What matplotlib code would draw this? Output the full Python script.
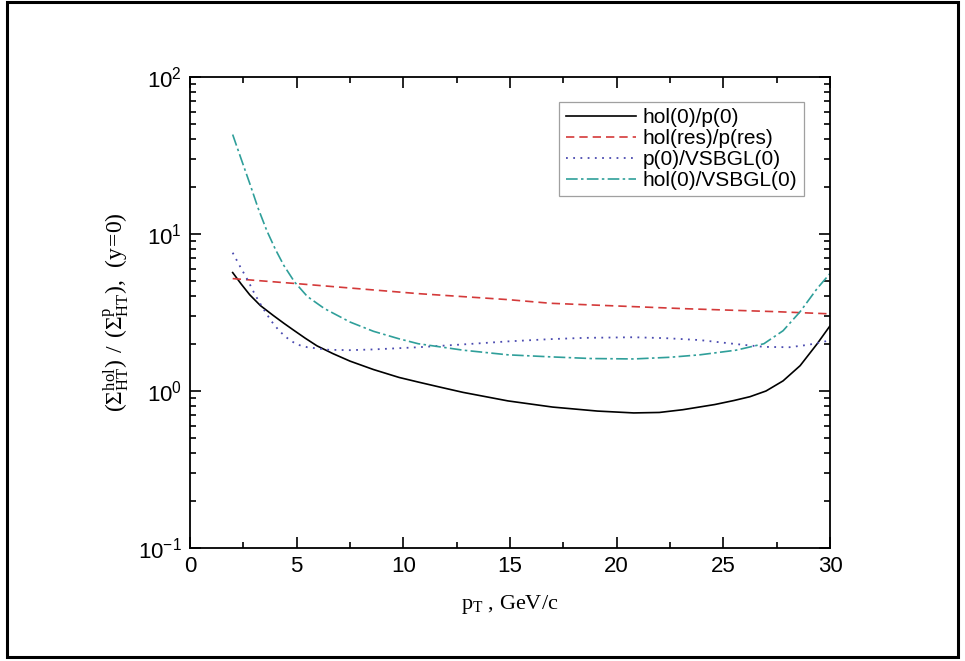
import math
import matplotlib
matplotlib.use("Agg")
import matplotlib.pyplot as plt
from matplotlib.ticker import FixedLocator, LogLocator, FuncFormatter, NullFormatter
from matplotlib.patches import Rectangle

plt.rcParams['font.family'] = ['Liberation Sans', 'DejaVu Sans']

# hol(0)/p(0)
x_hol_p = [2, 2.4, 2.8, 3.3, 3.9, 4.4, 4.84, 5.4, 5.95, 6.7, 7.5, 8.6, 9.8, 10.7,
           11.7, 12.8, 14.9, 17, 19.1, 20.8, 22, 23.1, 24.6, 25.5, 26.25, 27, 27.8,
           28.6, 29.4, 30]
y_hol_p = [5.68, 4.8, 4.1, 3.5, 3.03, 2.7, 2.45, 2.17, 1.94, 1.73, 1.55, 1.37, 1.22,
           1.14, 1.06, 0.98, 0.865, 0.79, 0.745, 0.725, 0.73, 0.76, 0.82, 0.87, 0.92,
           1.0, 1.16, 1.45, 2.0, 2.6]

# hol(res)/p(res)
x_res = [2, 5, 10.7, 14.9, 16.9, 19.1, 23.3, 27.5, 30]
y_res = [5.2, 4.83, 4.17, 3.82, 3.62, 3.52, 3.34, 3.2, 3.1]

# p(0)/VSBGL(0)
x_p_vs = [2, 2.35, 2.7, 3.05, 3.4, 3.8, 4.2, 4.6, 5, 5.5, 6.5, 7.5, 8.6, 10.7, 12.8,
          14.9, 16.9, 18.5, 20.8, 22.3, 23.9, 25.6, 26.9, 28.1, 29, 30]
y_p_vs = [7.6, 6.2, 5.1, 4.1, 3.4, 2.8, 2.4, 2.15, 1.98, 1.9, 1.83, 1.82, 1.84, 1.9,
          1.98, 2.07, 2.14, 2.18, 2.2, 2.17, 2.11, 1.99, 1.91, 1.9, 1.97, 2.1]

# hol(0)/VSBGL(0)
x_hol_vs = [2, 2.4, 2.8, 3.2, 3.6, 4.0, 4.4, 4.9, 5.5, 6.3, 7.5, 8.6, 9.8, 10.7,
            12.8, 14.9, 16.9, 18.8, 20.8, 22.5, 23.9, 25.6, 26.9, 27.8, 28.6, 29.4, 30]
y_hol_vs = [43, 30, 21, 14.5, 10.5, 8.0, 6.3, 4.95, 4.0, 3.35, 2.75, 2.4, 2.15, 2.0,
            1.82, 1.7, 1.65, 1.61, 1.6, 1.64, 1.7, 1.82, 2.0, 2.42, 3.2, 4.5, 5.6]

labels = ['hol(0)/p(0)', 'hol(res)/p(res)', 'p(0)/VSBGL(0)', 'hol(0)/VSBGL(0)']

fig = plt.figure(figsize=(9.65, 6.61), dpi=100)
ax = fig.add_axes([190/965, 1 - 548/661, 640/965, 471/661])

ax.plot(x_hol_p, y_hol_p, color='black', lw=1.2, ls='-', label=labels[0])
ax.plot(x_res, y_res, color='#d43a3a', lw=1.2, ls=(0, (5, 3)), label=labels[1])
ax.plot(x_p_vs, y_p_vs, color='#4a4ab0', lw=1.3, ls=(0, (1, 3)), label=labels[2])
ax.plot(x_hol_vs, y_hol_vs, color='#2f9f9a', lw=1.2, ls=(0, (7, 2, 1.5, 2)), label=labels[3])

ax.set_yscale('log')
ax.set_xlim(0, 30)
ax.set_ylim(0.1, 100)

ax.xaxis.set_major_locator(FixedLocator([0, 5, 10, 15, 20, 25, 30]))
ax.xaxis.set_minor_locator(FixedLocator([2.5, 7.5, 12.5, 17.5, 22.5, 27.5]))
ax.yaxis.set_major_locator(LogLocator(base=10, numticks=10))
ax.yaxis.set_minor_locator(LogLocator(base=10, subs=range(2, 10), numticks=20))
ax.yaxis.set_minor_formatter(NullFormatter())
ax.yaxis.set_major_formatter(FuncFormatter(
    lambda v, p: r'$\mathregular{10^{%d}}$' % round(math.log10(v))))

ax.tick_params(which='both', direction='in', top=True, right=True, width=1.2,
               labelsize=16)
ax.tick_params(which='major', length=8, pad=6)
ax.tick_params(which='minor', length=4.5)
for s in ax.spines.values():
    s.set_linewidth(1.3)

ax.set_xlabel(r'$\mathregular{p_T}$ , GeV/c', family='Liberation Serif', fontsize=16,
              labelpad=11)
ax.set_ylabel(r'$\mathregular{(\Sigma^{hol}_{HT})\ /\ (\Sigma^{p}_{HT}),\ (y\!=\!0)}$',
              family='Liberation Serif', fontsize=17, labelpad=4)

leg = ax.legend(loc='upper right', bbox_to_anchor=(0.975, 0.97), fontsize=15,
                fancybox=False, edgecolor='#888888', handlelength=3.4,
                borderpad=0.3, labelspacing=0.1, handletextpad=0.3)
leg.get_frame().set_linewidth(0.9)

fig.patches.append(Rectangle((7/965, 4/661), 951/965, 655/661, transform=fig.transFigure,
                             fill=False, edgecolor='black', lw=2.2))

fig.savefig('out.png', dpi=100)
